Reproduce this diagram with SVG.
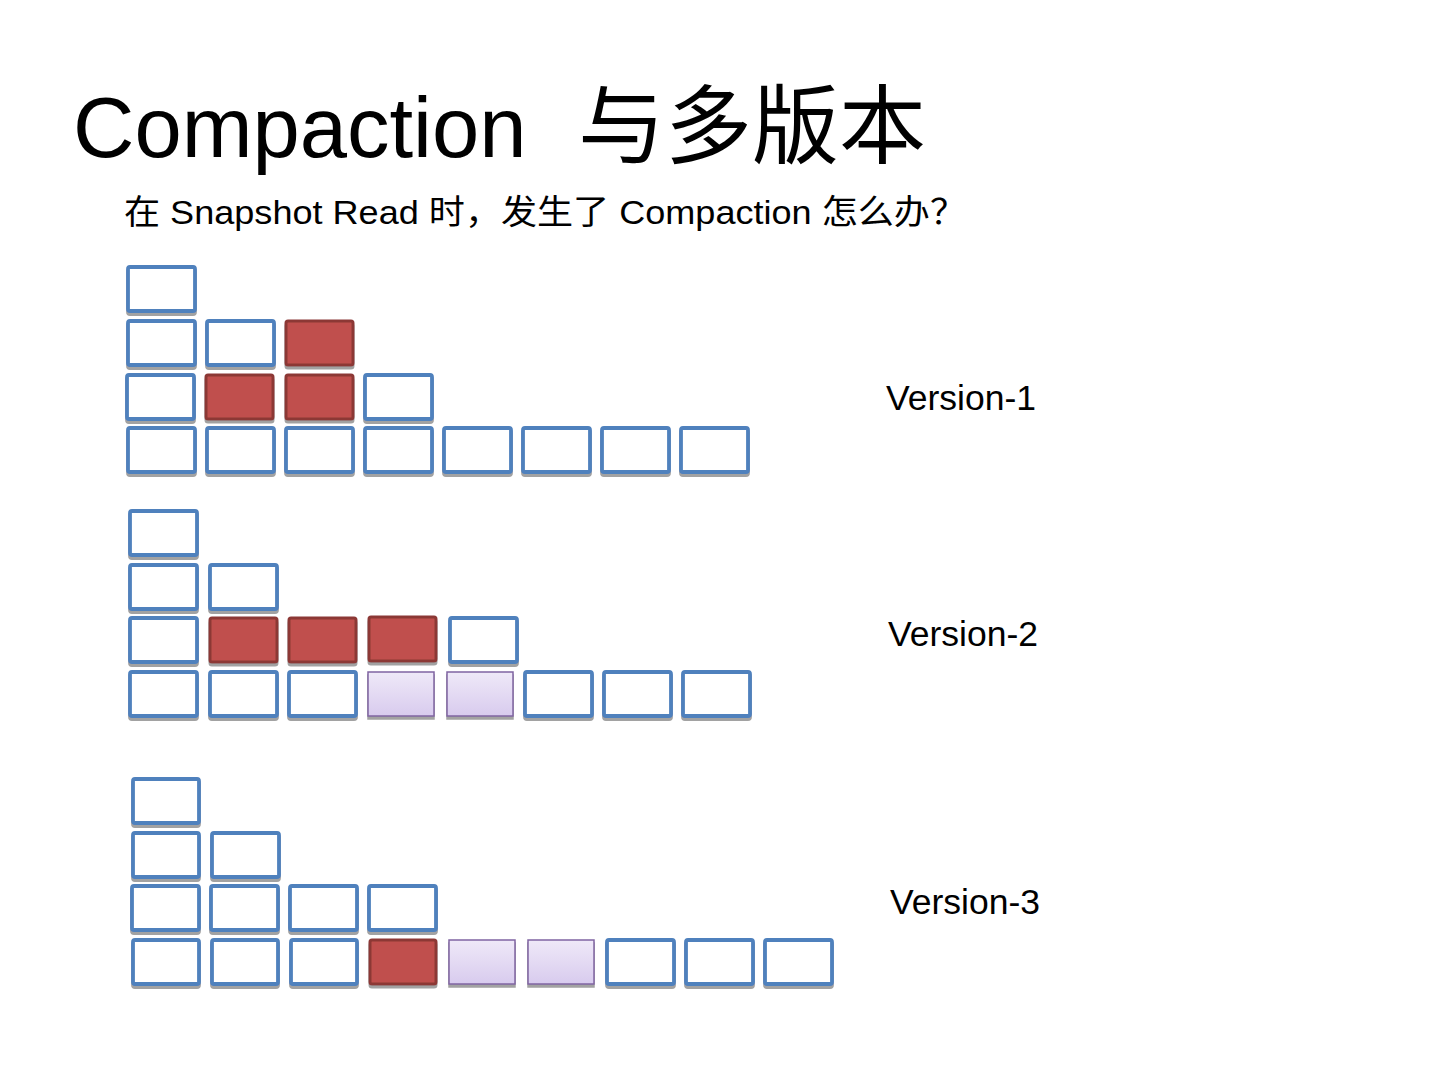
<svg xmlns="http://www.w3.org/2000/svg" width="1440" height="1080" viewBox="0 0 1440 1080">
<defs>
<linearGradient id="pg" x1="0" y1="0" x2="0" y2="1"><stop offset="0" stop-color="#EFE9F8"/><stop offset="1" stop-color="#D8CBEE"/></linearGradient>
<filter id="sh" x="-10%" y="-10%" width="120%" height="130%"><feDropShadow dx="0" dy="3" stdDeviation="0.6" flood-color="#8a8a8a" flood-opacity="0.8"/></filter>
</defs>
<style>
.b{fill:#fff;stroke:#4F81BD;stroke-width:3.8}
.r{fill:#C0504D;stroke:#8C3836;stroke-width:3}
.p{fill:url(#pg);stroke:#8064A2;stroke-width:1.5}
.t{font-family:"Liberation Sans","Noto Sans CJK SC",sans-serif;fill:#000}
</style>
<rect width="1440" height="1080" fill="#fff"/>
<g id="title">
<text class="t" x="73" y="157" font-size="85">Compaction</text>
<text class="t" x="578" y="157" font-size="86" textLength="348" lengthAdjust="spacingAndGlyphs">与多版本</text>
</g>
<g id="subtitle"><text class="t" x="124" y="224" font-size="34" textLength="842" lengthAdjust="spacingAndGlyphs">在 Snapshot Read 时，发生了 Compaction 怎么办？</text></g>
<g id="version-1" filter="url(#sh)">
<rect class="b" x="128" y="267" width="67" height="44" rx="2"/>
<rect class="b" x="128" y="321" width="67" height="44" rx="2"/>
<rect class="b" x="207" y="321" width="67" height="44" rx="2"/>
<rect class="r" x="286" y="321" width="67" height="44" rx="2"/>
<rect class="b" x="127" y="375" width="67" height="44" rx="2"/>
<rect class="r" x="206" y="375" width="67" height="44" rx="2"/>
<rect class="r" x="286" y="375" width="67" height="44" rx="2"/>
<rect class="b" x="365" y="375" width="67" height="44" rx="2"/>
<rect class="b" x="128" y="428" width="67" height="44" rx="2"/>
<rect class="b" x="207" y="428" width="67" height="44" rx="2"/>
<rect class="b" x="286" y="428" width="67" height="44" rx="2"/>
<rect class="b" x="365" y="428" width="67" height="44" rx="2"/>
<rect class="b" x="444" y="428" width="67" height="44" rx="2"/>
<rect class="b" x="523" y="428" width="67" height="44" rx="2"/>
<rect class="b" x="602" y="428" width="67" height="44" rx="2"/>
<rect class="b" x="681" y="428" width="67" height="44" rx="2"/>
</g>
<g id="version-2" filter="url(#sh)">
<rect class="b" x="130" y="511" width="67" height="44" rx="2"/>
<rect class="b" x="130" y="565" width="67" height="44" rx="2"/>
<rect class="b" x="210" y="565" width="67" height="44" rx="2"/>
<rect class="b" x="130" y="618" width="67" height="44" rx="2"/>
<rect class="r" x="210" y="618" width="67" height="44" rx="2"/>
<rect class="r" x="289" y="618" width="67" height="44" rx="2"/>
<rect class="r" x="369" y="617" width="67" height="44" rx="2"/>
<rect class="b" x="450" y="618" width="67" height="44" rx="2"/>
<rect class="b" x="130" y="672" width="67" height="44" rx="2"/>
<rect class="b" x="210" y="672" width="67" height="44" rx="2"/>
<rect class="b" x="289" y="672" width="67" height="44" rx="2"/>
<rect class="p" x="368" y="672" width="66" height="44"/>
<rect class="p" x="447" y="672" width="66" height="44"/>
<rect class="b" x="525" y="672" width="67" height="44" rx="2"/>
<rect class="b" x="604" y="672" width="67" height="44" rx="2"/>
<rect class="b" x="683" y="672" width="67" height="44" rx="2"/>
</g>
<g id="version-3" filter="url(#sh)">
<rect class="b" x="133" y="779" width="66" height="44" rx="2"/>
<rect class="b" x="133" y="833" width="66" height="44" rx="2"/>
<rect class="b" x="212" y="833" width="67" height="44" rx="2"/>
<rect class="b" x="132" y="886" width="67" height="44" rx="2"/>
<rect class="b" x="211" y="886" width="67" height="44" rx="2"/>
<rect class="b" x="290" y="886" width="67" height="44" rx="2"/>
<rect class="b" x="369" y="886" width="67" height="44" rx="2"/>
<rect class="b" x="133" y="940" width="66" height="44" rx="2"/>
<rect class="b" x="212" y="940" width="66" height="44" rx="2"/>
<rect class="b" x="291" y="940" width="66" height="44" rx="2"/>
<rect class="r" x="370" y="940" width="66" height="44" rx="2"/>
<rect class="p" x="449" y="940" width="66" height="44"/>
<rect class="p" x="528" y="940" width="66" height="44"/>
<rect class="b" x="607" y="940" width="67" height="44" rx="2"/>
<rect class="b" x="686" y="940" width="67" height="44" rx="2"/>
<rect class="b" x="765" y="940" width="67" height="44" rx="2"/>
</g>
<g id="labels">
<text class="t" x="886" y="410" font-size="35.5">Version-1</text>
<text class="t" x="888" y="646" font-size="35.5">Version-2</text>
<text class="t" x="890" y="914" font-size="35.5">Version-3</text>
</g>
</svg>
